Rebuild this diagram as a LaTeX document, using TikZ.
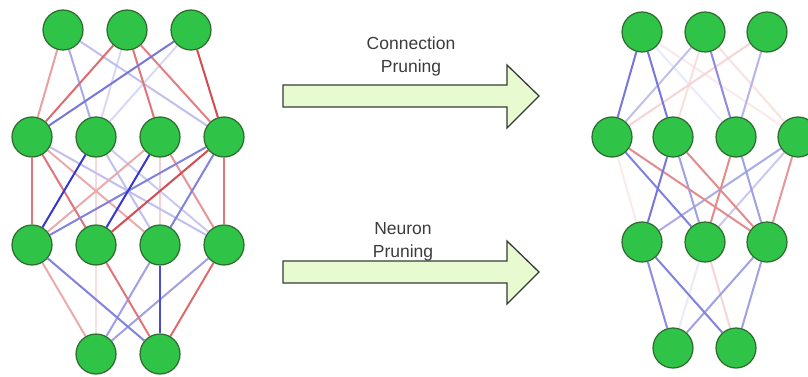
\documentclass[tikz,border=0pt]{standalone}
\usepackage{fontspec}
\setmainfont{Liberation Sans}
\usetikzlibrary{backgrounds}
\definecolor{er}{RGB}{205,45,50}
\definecolor{eb}{RGB}{45,45,200}
\definecolor{ngreen}{RGB}{47,196,72}
\definecolor{nborder}{RGB}{45,105,45}
\definecolor{afill}{RGB}{232,250,208}
\definecolor{aborder}{RGB}{55,60,55}
\definecolor{tgray}{RGB}{60,60,60}
\tikzset{
  neuron/.style={circle, minimum size=40pt, inner sep=0pt, fill=ngreen, draw=nborder, line width=1.2pt},
  wr/.style={draw=er!#1!white, line width=2pt},
  wb/.style={draw=eb!#1!white, line width=2pt},
  bigarrow/.style={fill=afill, draw=aborder, line width=1.3pt, line join=miter},
  lbl/.style={text=tgray, align=center, font=\fontsize{17.5}{23}\selectfont, inner sep=0pt}
}
\begin{document}
\begin{tikzpicture}[x=1pt,y=-1pt]
\clip (0,0) rectangle (808,377);
% ---------- left network ----------
\node[neuron] (A1) at (63,30) {};
\node[neuron] (A2) at (127,30) {};
\node[neuron] (A3) at (191,30) {};
\node[neuron] (B1) at (32,137) {};
\node[neuron] (B2) at (96,137) {};
\node[neuron] (B3) at (160,137) {};
\node[neuron] (B4) at (224,137) {};
\node[neuron] (C1) at (32,245) {};
\node[neuron] (C2) at (96,245) {};
\node[neuron] (C3) at (160,245) {};
\node[neuron] (C4) at (224,245) {};
\node[neuron] (D1) at (96,354) {};
\node[neuron] (D2) at (160,354) {};
% ---------- right network ----------
\node[neuron] (E1) at (642,32) {};
\node[neuron] (E2) at (705,32) {};
\node[neuron] (E3) at (767,32) {};
\node[neuron] (F1) at (612,137) {};
\node[neuron] (F2) at (673,137) {};
\node[neuron] (F3) at (736,137) {};
\node[neuron] (F4) at (798,137) {};
\node[neuron] (G1) at (642,242) {};
\node[neuron] (G2) at (705,242) {};
\node[neuron] (G3) at (767,242) {};
\node[neuron] (H1) at (673,348) {};
\node[neuron] (H2) at (736,348) {};
\begin{scope}[on background layer]
\fill[white] (0,0) rectangle (808,377);
% left A-B
\draw[wb=18] (A2) -- (B2);
\draw[wb=18] (A3) -- (B2);
\draw[wb=30] (A1) -- (B4);
\draw[wr=45] (A1) -- (B1);
\draw[wb=40] (A1) -- (B2);
\draw[wr=70] (A2) -- (B1);
\draw[wr=65] (A2) -- (B3);
\draw[wr=60] (A2) -- (B4);
\draw[wb=65] (A3) -- (B1);
\draw[wr=85] (A3) -- (B4);
% left B-C
\draw[wr=18] (B2) -- (C2);
\draw[wr=22] (B3) -- (C3);
\draw[wb=25] (B2) -- (C4);
\draw[wb=30] (B2) -- (C3);
\draw[wb=30] (B1) -- (C4);
\draw[wr=40] (B1) -- (C3);
\draw[wr=40] (B3) -- (C1);
\draw[wr=50] (B3) -- (C4);
\draw[wr=65] (B1) -- (C1);
\draw[wr=65] (B1) -- (C2);
\draw[wr=65] (B4) -- (C4);
\draw[wb=60] (B4) -- (C1);
\draw[wb=60] (B4) -- (C3);
\draw[wr=85] (B4) -- (C2);
\draw[wb=95] (B2) -- (C1);
\draw[wb=95] (B3) -- (C2);
% left C-D
\draw[wr=15] (C2) -- (D1);
\draw[wr=40] (C1) -- (D1);
\draw[wb=45] (C3) -- (D1);
\draw[wb=45] (C4) -- (D1);
\draw[wb=60] (C1) -- (D2);
\draw[wr=65] (C2) -- (D2);
\draw[wr=70] (C4) -- (D2);
\draw[wb=85] (C3) -- (D2);
% right E-F
\draw[wr=10] (E1) -- (F4);
\draw[wb=10] (E1) -- (F3);
\draw[wr=14] (E2) -- (F4);
\draw[wr=15] (E2) -- (F2);
\draw[wr=20] (E3) -- (F1);
\draw[wb=30] (E2) -- (F1);
\draw[wb=35] (E3) -- (F3);
\draw[wb=55] (E2) -- (F3);
\draw[wb=65] (E1) -- (F1);
\draw[wb=65] (E1) -- (F2);
% right F-G
\draw[wr=10] (F1) -- (G1);
\draw[wb=25] (F4) -- (G2);
\draw[wb=40] (F4) -- (G1);
\draw[wb=45] (F2) -- (G2);
\draw[wb=45] (F3) -- (G3);
\draw[wr=50] (F4) -- (G3);
\draw[wr=55] (F1) -- (G3);
\draw[wr=55] (F2) -- (G3);
\draw[wr=55] (F3) -- (G2);
\draw[wb=60] (F1) -- (G2);
\draw[wb=65] (F2) -- (G1);
% right G-H
\draw[wb=10] (G2) -- (H1);
\draw[wr=20] (G2) -- (H2);
\draw[wb=45] (G3) -- (H1);
\draw[wb=45] (G3) -- (H2);
\draw[wb=55] (G1) -- (H1);
\draw[wb=60] (G1) -- (H2);
\end{scope}
% ---------- arrows ----------
\draw[bigarrow] (283,85) -- (507,85) -- (507,65) -- (539,96) -- (507,128) -- (507,107) -- (283,107) -- cycle;
\draw[bigarrow] (283,261) -- (507,261) -- (507,241) -- (539,272) -- (507,304) -- (507,283) -- (283,283) -- cycle;
\node[lbl] (t1) at (411,56.5) {Connection\\Pruning};
\node[lbl] (t2) at (403,242) {Neuron\\Pruning};
\end{tikzpicture}
\end{document}
